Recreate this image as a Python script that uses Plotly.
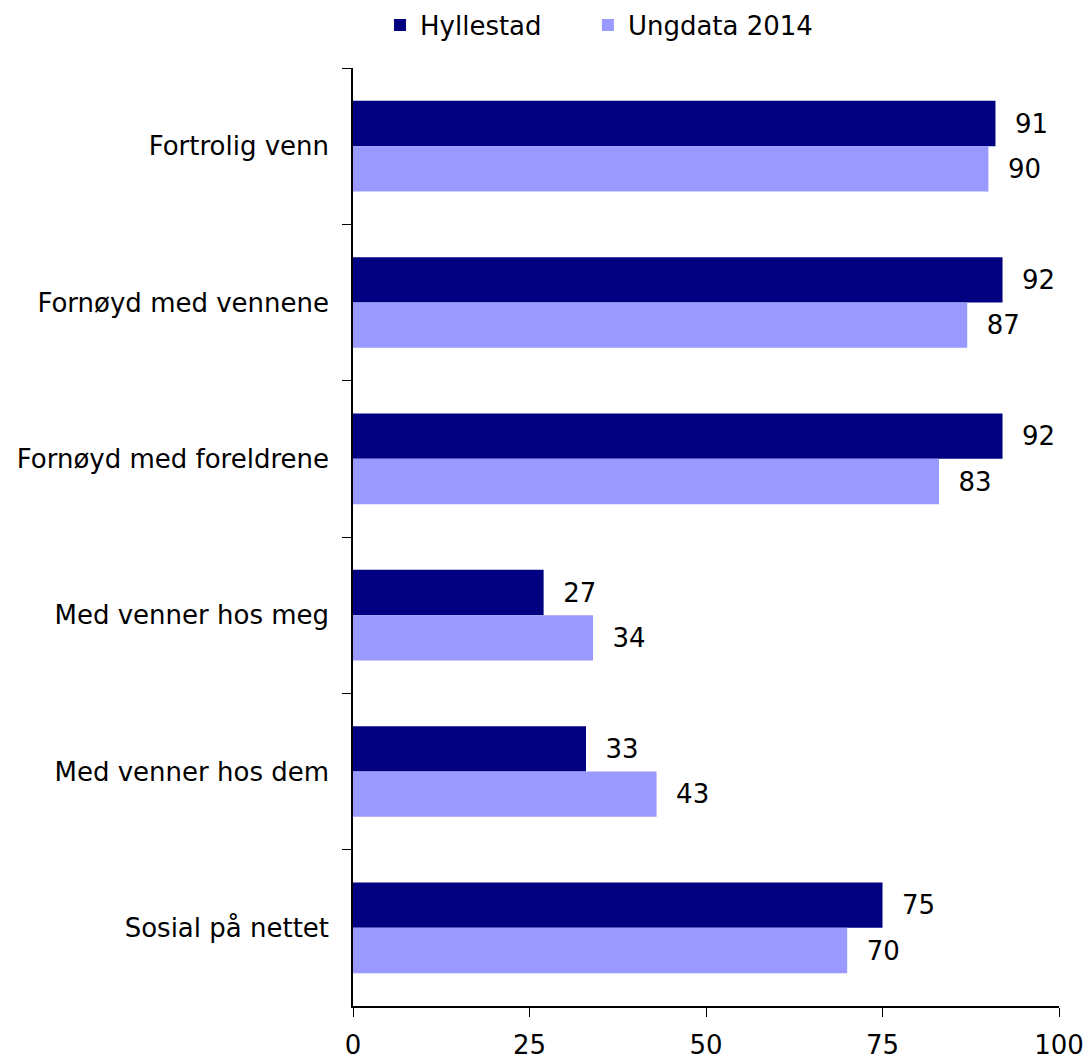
import plotly.graph_objects as go

categories = ["Fortrolig venn", "Fornøyd med vennene", "Fornøyd med foreldrene",
              "Med venner hos meg", "Med venner hos dem", "Sosial på nettet"]
hyllestad = [91, 92, 92, 27, 33, 75]
ungdata = [90, 87, 83, 34, 43, 70]
series_names = ["Hyllestad", "Ungdata 2014"]
x_ticks = [0, 25, 50, 75, 100]

FONT = "DejaVu Sans"
FS = 26
NBSP = "\u00a0"

fig = go.Figure()
for name, vals, col, pad in [(series_names[0], hyllestad, "#000080", 5),
                             (series_names[1], ungdata, "#9999FF", 0)]:
    fig.add_trace(go.Bar(
        y=categories, x=vals, name=name + NBSP * pad, orientation="h",
        marker=dict(color=col, line=dict(width=0)),
        text=vals, texttemplate=NBSP * 2 + "%{x}", textposition="outside",
        textfont=dict(family=FONT, size=FS, color="black"),
        cliponaxis=False,
    ))

W, H = 1084, 1051
L, R, T, B = 345, 33, 60, 53
plot_h = H - T - B

fig.update_layout(
    width=W, height=H,
    margin=dict(l=L, r=R, t=T, b=B, autoexpand=False),
    paper_bgcolor="white", plot_bgcolor="white",
    barmode="group", bargap=0.42, bargroupgap=0,
    font=dict(family=FONT, size=FS, color="black"),
    legend=dict(orientation="h", xref="container", x=591 / W, xanchor="center",
                yref="paper", y=1 + (T - 17) / plot_h, yanchor="middle",
                font=dict(family=FONT, size=FS), traceorder="normal"),
    showlegend=True,
)
fig.update_xaxes(range=[0, 100], tickvals=x_ticks, ticks="outside", ticklen=9,
                 tickcolor="black", showline=True, linecolor="black", linewidth=1.5,
                 showgrid=False, zeroline=False, ticklabelstandoff=6,
                 tickfont=dict(family=FONT, size=FS), automargin=False)
fig.update_yaxes(autorange="reversed", type="category", tickson="boundaries",
                 ticks="outside", ticklen=9, tickcolor="black", showline=True,
                 linecolor="black", linewidth=1.5, showgrid=False,
                 ticklabelstandoff=17, tickfont=dict(family=FONT, size=FS),
                 automargin=False)
fig.write_html("out.html")
